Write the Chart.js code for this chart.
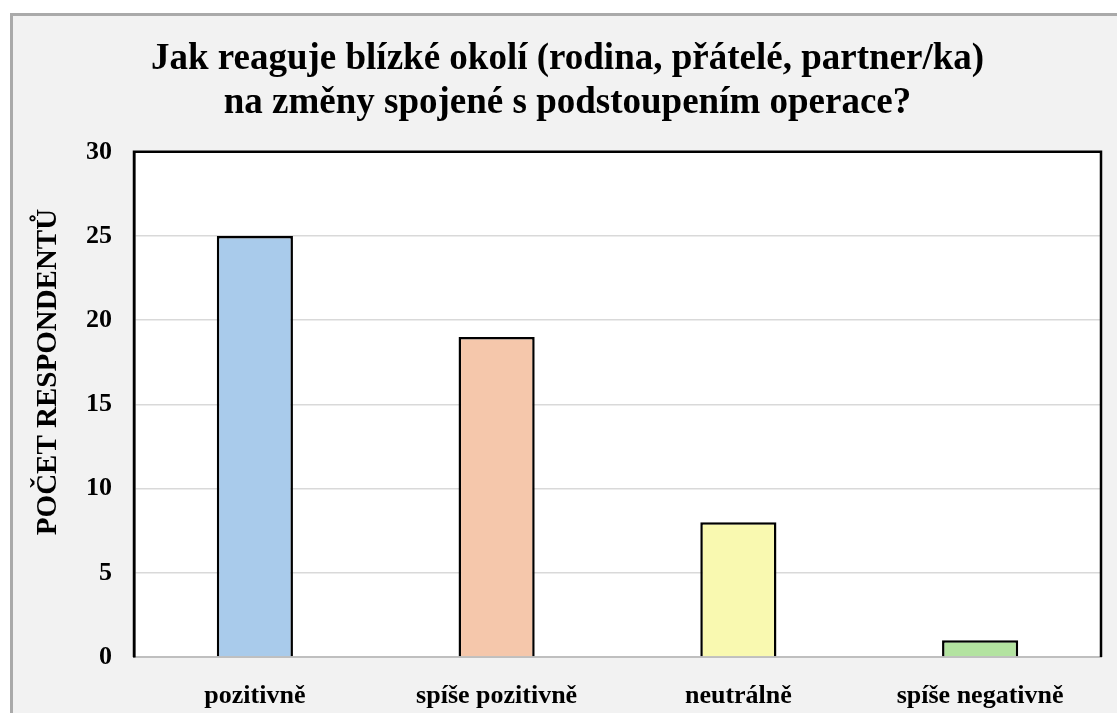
<!DOCTYPE html>
<html>
<head>
<meta charset="utf-8">
<script src="https://cdn.jsdelivr.net/npm/chart.js@4"></script>
<style>
  html, body { margin: 0; padding: 0; background: #ffffff; overflow: hidden; }
  #ramec {
    position: absolute; left: 10px; top: 13px; width: 1120px; height: 720px;
    border-left: 3px solid #aaaaaa; border-top: 3px solid #aaaaaa;
    background: #f2f2f2; box-sizing: border-box;
  }
  #graf { position: absolute; left: 0; top: 0; }
</style>
</head>
<body>
<div id="ramec"></div>
<canvas id="graf" width="1117" height="713"></canvas>
<script>
// Kategorie a počty respondentů
const kategorie = ['pozitivně', 'spíše pozitivně', 'neutrálně', 'spíše negativně'];
const pocty = [25, 19, 8, 1];
const barvy = ['#a9cbeb', '#f5c7ab', '#f9f9b0', '#b3e3a0'];
const titulek = ['Jak reaguje blízké okolí (rodina, přátelé, partner/ka)', 'na změny spojené s podstoupením operace?'];
const popisOsyY = 'POČET RESPONDENTŮ';

const pismo = 'Liberation Serif, Times New Roman, serif';

// bílé pozadí plochy grafu, rámeček a popisek osy Y
const doplnky = {
    id: 'doplnky',
    beforeDraw(chart) {
        const a = chart.chartArea;
        chart.ctx.save();
        chart.ctx.fillStyle = '#ffffff';
        chart.ctx.fillRect(a.left, a.top, a.right - a.left, a.bottom - a.top);
        chart.ctx.restore();
    },
    afterDraw(chart) {
        const c = chart.ctx;
        const a = chart.chartArea;
        c.save();
        c.strokeStyle = '#000';
        c.lineWidth = 2.5;
        c.beginPath();
        c.moveTo(a.left, a.bottom);
        c.lineTo(a.left, a.top);
        c.lineTo(a.right, a.top);
        c.lineTo(a.right, a.bottom);
        c.stroke();
        c.translate(49, 372);
        c.rotate(-Math.PI / 2);
        c.font = 'bold 29px ' + pismo;
        c.fillStyle = '#000';
        c.textAlign = 'center';
        c.textBaseline = 'middle';
        c.fillText(popisOsyY, 0, 0);
        c.restore();
    }
};

const ctx = document.getElementById('graf').getContext('2d');

const graf = new Chart(ctx, {
    type: 'bar',
    data: {
        labels: kategorie,
        datasets: [{
            data: pocty,
            backgroundColor: barvy,
            borderColor: '#000000',
            borderWidth: 2.5,
            barPercentage: 0.315,
            categoryPercentage: 1,
        }]
    },
    options: {
        responsive: false,
        animation: false,
        layout: {
            padding: { left: 34, right: 16, top: 0, bottom: 0 }
        },
        plugins: {
            legend: { display: false },
            tooltip: { enabled: false },
            title: {
                display: true,
                text: titulek,
                color: '#000',
                font: { family: pismo, size: 37, weight: 'bold', lineHeight: 1.2 },
                padding: { top: 37, bottom: 26 },
            },
        },
        scales: {
            x: {
                grid: { display: false },
                border: { color: '#bfbfbf', width: 2 },
                ticks: {
                    color: '#000',
                    font: { family: pismo, size: 26, weight: 'bold' },
                    padding: 16,
                    maxRotation: 0,
                },
                afterFit(scale) { scale.height = 56; },
            },
            y: {
                min: 0,
                max: 30,
                grid: { color: '#d9d9d9', lineWidth: 1.5, drawTicks: false },
                border: { color: '#000', width: 2.5 },
                ticks: {
                    stepSize: 5,
                    color: '#000',
                    font: { family: pismo, size: 26, weight: 'bold' },
                    padding: 22,
                },
                afterFit(scale) { scale.width = 100; },
            }
        }
    },
    plugins: [doplnky]
});
</script>
</body>
</html>
